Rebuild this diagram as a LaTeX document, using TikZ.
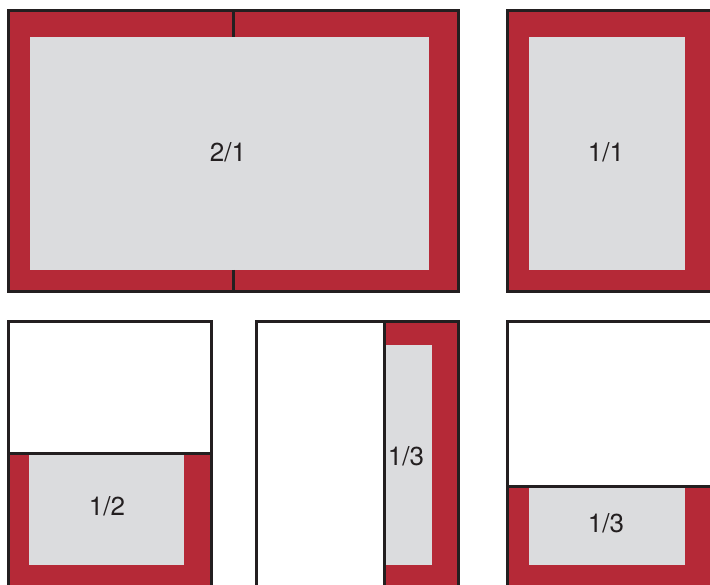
\documentclass[tikz,border=0pt]{standalone}
\usepackage{fontspec}
\setmainfont{TeX Gyre Heros}
\definecolor{redf}{HTML}{B52937}
\definecolor{greyf}{HTML}{DBDCDE}
\definecolor{ink}{HTML}{231F20}
\begin{document}
\begin{tikzpicture}[x=1pt,y=-1pt,
  redpart/.style={fill=redf,draw=none},
  greypart/.style={fill=greyf,draw=none},
  edge/.style={draw=ink,line width=3pt},
  lbl/.style={text=ink,font=\fontsize{26}{30}\selectfont,inner sep=0pt}]
\useasboundingbox (0,0) rectangle (710,585);
\begin{scope}
\clip (0,0) rectangle (710,585);
% Box 2/1
\fill[redpart] (8,11) rectangle (458,292);
\fill[greypart] (30,37) rectangle (429,270);
\draw[edge] (233,11) -- (233,37);
\draw[edge] (233,270) -- (233,292);
\draw[edge] (8,11) rectangle (458,292);
\node[lbl] (l21) at (228,152) {2/1};
% Box 1/1
\fill[redpart] (507,11) rectangle (720,292);
\fill[greypart] (529,37) rectangle (685,270);
\draw[edge] (720,11) -- (507,11) -- (507,292) -- (720,292);
\node[lbl] (l11) at (606,152) {1/1};
% Box 1/2
\fill[redpart] (8,453) rectangle (211,600);
\fill[greypart] (29,454) rectangle (184,565);
\draw[edge] (8,600) -- (8,322) -- (211,322) -- (211,600);
\draw[edge] (8,453) -- (211,453);
\node[lbl] (l12) at (107,506) {1/2};
% Box 1/3 vertical
\fill[redpart] (384,322) rectangle (458,600);
\fill[greypart] (386,345) rectangle (432,565);
\draw[edge] (256,600) -- (256,322) -- (458,322) -- (458,600);
\draw[edge] (384,322) -- (384,600);
\node[lbl] (l13a) at (406,456) {1/3};
% Box 1/3 horizontal
\fill[redpart] (507,486) rectangle (720,600);
\fill[greypart] (529,487) rectangle (685,565);
\draw[edge] (507,600) -- (507,322) -- (720,322);
\draw[edge] (507,486) -- (720,486);
\node[lbl] (l13b) at (606,523) {1/3};
\end{scope}
\end{tikzpicture}
\end{document}
